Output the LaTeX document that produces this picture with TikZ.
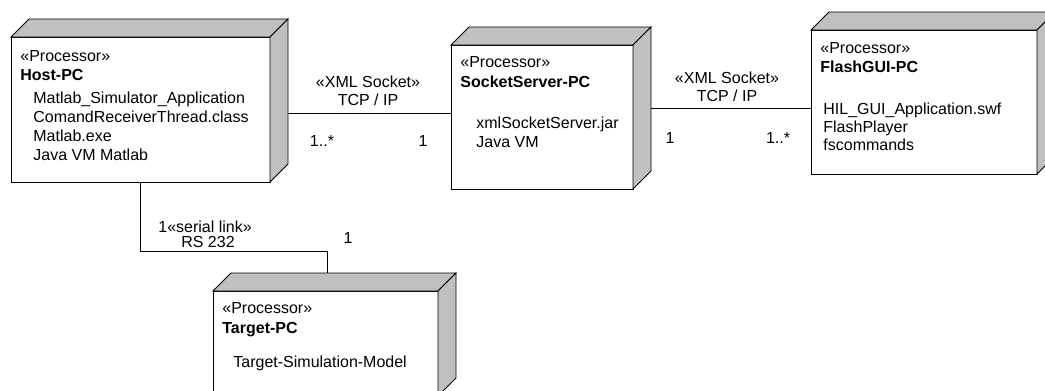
\documentclass[tikz,border=0pt]{standalone}
\usepackage{fontspec}
\setmainfont{Liberation Sans}
\usetikzlibrary{calc}
\definecolor{sidegray}{RGB}{192,192,192}
\tikzset{
  pcbox/.style={draw, fill=white, anchor=north west, inner sep=0pt, outer sep=0pt},
  face/.style={draw, fill=sidegray},
  txt/.style={anchor=base west, inner sep=0pt},
  lbl/.style={anchor=base, inner sep=0pt}
}
\begin{document}
\begin{tikzpicture}[x=0.75pt, y=-0.75pt, line width=0.6pt, font=\fontsize{12}{14}\selectfont]
 \useasboundingbox (0,0) rectangle (1045,390);
 \clip (0,0) rectangle (1045,390);
 % processor boxes
 \node[pcbox, minimum width=194.25pt, minimum height=108.75pt] (host) at (11,37) {};
 \node[pcbox, minimum width=136.5pt, minimum height=108pt] (socket) at (451,45) {};
 \node[pcbox, minimum width=169.5pt, minimum height=108pt] (flash) at (811,30) {};
 \node[pcbox, minimum width=168.75pt, minimum height=78.75pt] (target) at (213,291) {};
 % 3d faces
 \draw[face] (host.north west) -- ++(18,-18) -- ($(host.north east)+(18,-18)$) -- (host.north east) -- cycle;
 \draw[face] (host.north east) -- ++(18,-18) -- ($(host.south east)+(18,-18)$) -- (host.south east) -- cycle;
 \draw[face] (socket.north west) -- ++(18,-18) -- ($(socket.north east)+(18,-18)$) -- (socket.north east) -- cycle;
 \draw[face] (socket.north east) -- ++(18,-18) -- ($(socket.south east)+(18,-18)$) -- (socket.south east) -- cycle;
 \draw[face] (flash.north west) -- ++(18,-18) -- ($(flash.north east)+(18,-18)$) -- (flash.north east) -- cycle;
 \draw[face] (flash.north east) -- ++(18,-18) -- ($(flash.south east)+(18,-18)$) -- (flash.south east) -- cycle;
 \draw[face] (target.north west) -- ++(18,-18) -- ($(target.north east)+(18,-18)$) -- (target.north east) -- cycle;
 \draw[face] (target.north east) -- ++(18,-18) -- ($(target.south east)+(18,-18)$) -- (target.south east) -- cycle;
 % Host-PC
 \node[txt] (hoststereo) at (20,61) {«Processor»};
 \node[txt] (hostname) at (20,80) {\textbf{Host-PC}};
 \node[txt] (hostapp) at (33,103) {Matlab\_Simulator\_Application};
 \node[txt] (hostthread) at (33,122) {ComandReceiverThread.class};
 \node[txt] (hostexe) at (33,141) {Matlab.exe};
 \node[txt] (hostjvm) at (33,160) {Java VM Matlab};
 % SocketServer-PC
 \node[txt] (sockstereo) at (460,67) {«Processor»};
 \node[txt] (sockname) at (460,87) {\textbf{SocketServer-PC}};
 \node[txt] (sockjar) at (476,128) {xmlSocketServer.jar};
 \node[txt] (sockjvm) at (476,147) {Java VM};
 % FlashGUI-PC
 \node[txt] (flashstereo) at (820,53) {«Processor»};
 \node[txt] (flashname) at (820,72) {\textbf{FlashGUI-PC}};
 \node[txt] (flashswf) at (823,114) {HIL\_GUI\_Application.swf};
 \node[txt] (flashplayer) at (823,132) {FlashPlayer};
 \node[txt] (flashcmd) at (823,150) {fscommands};
 % Target-PC
 \node[txt] (targetstereo) at (222,313) {«Processor»};
 \node[txt] (targetname) at (222,333) {\textbf{Target-PC}};
 \node[txt] (targetmodel) at (233,367) {Target-Simulation-Model};
 % links
 \coordinate (hostport) at (288,113);
 \coordinate (sockport) at (651,108);
 \coordinate (targetport) at (327,273);
 \draw (hostport) -- (hostport -| socket.west);
 \draw (sockport) -- (sockport -| flash.west);
 \draw (host.south) -- ++(0,69) -| (targetport);
 \node[lbl] (xml1) at (368,87) {«XML Socket»};
 \node[lbl] (tcp1) at (368,105) {TCP / IP};
 \node[lbl] (m1a) at (322,146) {1..*};
 \node[lbl] (m1b) at (423,146) {1};
 \node[lbl] (xml2) at (727,83) {«XML Socket»};
 \node[lbl] (tcp2) at (727,101) {TCP / IP};
 \node[lbl] (m2a) at (670,143) {1};
 \node[lbl] (m2b) at (778,143) {1..*};
 \node[txt] (serial) at (158,232) {1«serial link»};
 \node[lbl] (rs) at (208,247) {RS 232};
 \node[lbl] (m3) at (348,243) {1};
\end{tikzpicture}
\end{document}
